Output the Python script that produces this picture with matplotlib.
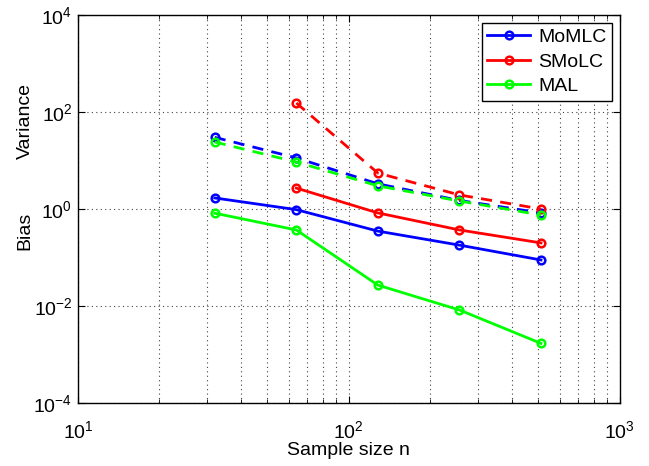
import numpy as np
import matplotlib
matplotlib.use('Agg')
import matplotlib.pyplot as plt
from matplotlib.ticker import LogLocator, NullFormatter, FixedLocator

plt.rcParams['font.family'] = ['Liberation Sans', 'DejaVu Sans']

n = [32, 64, 128, 256, 512]
n_smolc = [64, 128, 256, 512]

momlc_bias = [1.69, 0.97, 0.35, 0.18, 0.089]
momlc_var = [30, 11.3, 3.3, 1.5, 0.83]
smolc_bias = [2.7, 0.83, 0.37, 0.2]
smolc_var = [153, 5.5, 1.95, 1.0]
mal_bias = [0.82, 0.37, 0.027, 0.0083, 0.0017]
mal_var = [24, 9.3, 3.0, 1.46, 0.75]

fig = plt.figure(figsize=(6.49, 4.66), dpi=100)
ax = fig.add_axes([0.120, 0.135, 0.835, 0.833])

style = dict(marker='o', markersize=5.5, markerfacecolor='none', markeredgewidth=1.8, linewidth=2)
ax.plot(n, momlc_bias, color='#0000ff', label='MoMLC', **style)
ax.plot(n_smolc, smolc_bias, color='#ff0000', label='SMoLC', **style)
ax.plot(n, mal_bias, color='#00ff00', label='MAL', **style)
ax.plot(n, momlc_var, color='#0000ff', linestyle=(0, (4, 3)), **style)
ax.plot(n_smolc, smolc_var, color='#ff0000', linestyle=(0, (4, 3)), **style)
ax.plot(n, mal_var, color='#00ff00', linestyle=(0, (4, 3)), **style)

ax.set_xscale('log')
ax.set_yscale('log')
ax.set_xlim(10, 1000)
ax.set_ylim(1e-4, 1e4)
ax.yaxis.set_major_locator(FixedLocator([1e-4, 1e-2, 1e0, 1e2, 1e4]))
ax.yaxis.set_minor_locator(FixedLocator([]))
ax.xaxis.set_minor_locator(LogLocator(base=10, subs=np.arange(2, 10)))
ax.xaxis.set_minor_formatter(NullFormatter())

ax.grid(True, which='major', linestyle=(0, (1, 3)), color='#444444', linewidth=0.8)
ax.grid(True, which='minor', axis='x', linestyle=(0, (1, 3)), color='#444444', linewidth=0.8)

ax.tick_params(which='both', direction='in', top=True, right=True, labelsize=14)
ax.tick_params(which='major', length=5)
ax.tick_params(which='minor', length=3)
ax.tick_params(axis='x', pad=12)
ax.tick_params(axis='y', pad=4)
for s in ax.spines.values():
    s.set_linewidth(1.0)

ax.set_xlabel('Sample size n', fontsize=14, labelpad=0)
fig.text(0.039, 0.74, 'Variance', rotation=90, fontsize=14, ha='center', va='center')
fig.text(0.039, 0.505, 'Bias', rotation=90, fontsize=14, ha='center', va='center')

leg = ax.legend(loc='upper right', fontsize=14, fancybox=False, framealpha=1,
                edgecolor='black', handlelength=2.2, handletextpad=0.4, borderpad=0.3,
                labelspacing=0.35, borderaxespad=0.4)
leg.get_frame().set_linewidth(1.0)

fig.savefig('out.png', dpi=100)
